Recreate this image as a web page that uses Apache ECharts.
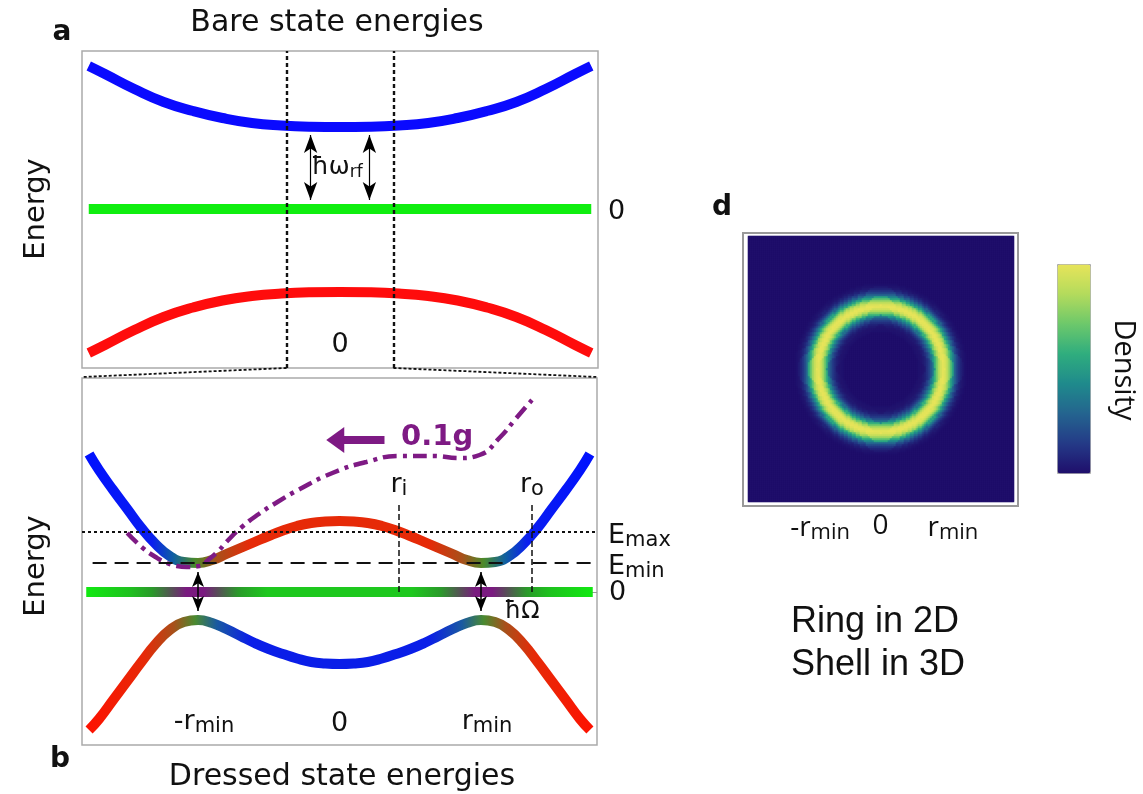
<!DOCTYPE html>
<html>
<head>
<meta charset="utf-8">
<script src="https://cdn.jsdelivr.net/npm/echarts@6/dist/echarts.min.js"></script>
<style>
  html, body { margin: 0; background: #fff; }
  #main { width: 1143px; height: 794px; }
</style>
</head>
<body>
<div id="main"></div>
<script>
// ---- values (x in units of r_min, energy in arbitrary units) ----

// a: bare state energies
var bareX = [-8.55, -8, -7, -6, -5, -4, -3, -2, -1, 0, 1, 2, 3, 4, 5, 6, 7, 8, 8.55]
var bareUpper = [1.43, 1.35, 1.20, 1.07, 0.98, 0.91, 0.86, 0.835, 0.823, 0.82,
  0.823, 0.835, 0.86, 0.91, 0.98, 1.07, 1.20, 1.35, 1.43]
var bareLower = [-1.44, -1.36, -1.21, -1.08, -0.985, -0.915, -0.87, -0.845, -0.833, -0.83,
  -0.833, -0.845, -0.87, -0.915, -0.985, -1.08, -1.21, -1.36, -1.44]
var bareFlatX = [-8.55, 8.55]
var bareFlat = [0, 0]
var bareTicks = [-1, 0, 1]
var bareTickLabels = ['', '0', '']
var zoomEdges = [-1.82, 1.82]
var rfArrowX = [-1, 1]

// b: dressed state energies
var dressedX = [-1.77, -1.7, -1.6, -1.5, -1.4, -1.3, -1.2, -1.1, -1.0, -0.9, -0.8, -0.7, -0.6, -0.5, -0.4, -0.3, -0.2, -0.1, 0,
  0.1, 0.2, 0.3, 0.4, 0.5, 0.6, 0.7, 0.8, 0.9, 1.0, 1.1, 1.2, 1.3, 1.4, 1.5, 1.6, 1.7, 1.77]
var dressedUpper = [1.38, 1.22, 1.02, 0.83, 0.64, 0.48, 0.36, 0.30, 0.29, 0.32, 0.38, 0.44, 0.50, 0.56, 0.615, 0.66, 0.69, 0.705, 0.71,
  0.705, 0.69, 0.66, 0.615, 0.56, 0.50, 0.44, 0.38, 0.32, 0.29, 0.30, 0.36, 0.48, 0.64, 0.83, 1.02, 1.22, 1.38]
var dressedLower = [-1.38, -1.27, -1.08, -0.89, -0.70, -0.52, -0.38, -0.30, -0.28, -0.31, -0.37, -0.44, -0.51, -0.57, -0.62, -0.665, -0.70, -0.715, -0.72,
  -0.715, -0.70, -0.665, -0.62, -0.57, -0.51, -0.44, -0.37, -0.31, -0.28, -0.30, -0.38, -0.52, -0.70, -0.89, -1.08, -1.27, -1.38]
var dressedFlatX = [-1.79, 1.79]
var dressedFlat = [0, 0]
// potential with gravity (0.1g)
var gravX = [-1.5, -1.39, -1.3, -1.22, -1.15, -1.08, -0.99, -0.92, -0.85, -0.8, -0.69, -0.57, -0.45, -0.28, -0.05, 0.19,
  0.42, 0.66, 0.85, 0.99, 1.13, 1.25, 1.36]
var gravY = [0.59, 0.44, 0.35, 0.29, 0.26, 0.25, 0.26, 0.33, 0.42, 0.50, 0.65, 0.78, 0.89, 1.03, 1.19, 1.30,
  1.36, 1.36, 1.34, 1.37, 1.54, 1.74, 1.92]
var eMin = 0.29
var eMax = 0.60
var rInner = 0.42
var rOuter = 1.36
var dressedTicks = [-1, 0, 1]
var dressedTickLabels = ['-r_min', '0', 'r_min']

// d: radial density profile of the ring
var ringR = [0.55, 0.575, 0.6, 0.625, 0.65, 0.675, 0.7, 0.725, 0.75, 0.775, 0.8, 0.825, 0.85, 0.875,
  0.9, 0.925, 0.95, 0.975, 1.0, 1.025, 1.05, 1.075, 1.1, 1.125, 1.15, 1.175, 1.2, 1.225, 1.25, 1.275, 1.3]
var ringDensity = [0, 0.01, 0.015, 0.02, 0.035, 0.06, 0.1, 0.15, 0.23, 0.33, 0.45, 0.59, 0.73, 0.85,
  0.94, 0.99, 1.0, 0.97, 0.91, 0.81, 0.68, 0.54, 0.41, 0.29, 0.19, 0.12, 0.07, 0.04, 0.02, 0.008, 0]
var ringTicks = [-1, 0, 1]
var ringTickLabels = ['-r_min', '0', 'r_min']

// ---- styles ----
var FAM = '"DejaVu Sans", sans-serif'
var FAM_D = '"Open Sans", sans-serif'
var INK = '#111'
var PURPLE = '#7e1a84'
var densityColors = ['#1f0e6b', '#243a87', '#24648f', '#1f8a8c', '#2fad7e', '#6cc86b', '#b3db5c', '#e7e45a']

function pairs(xs, ys) {
  return xs.map(function (x, i) { return [x, ys[i]] })
}
function subText(t, lead) {
  var p = t.split('_')
  if (!p[1]) return p[0]
  return (lead ? '{g| }' : '') + '{m|' + p[0] + '}{s|' + p[1] + '}'
}
function subRich(size, subSize, fam) {
  return {
    g: { width: 12, fontSize: 4 },
    m: { fontSize: size, fontFamily: fam, color: INK, lineHeight: size + 4, verticalAlign: 'middle' },
    s: { fontSize: subSize, fontFamily: fam, color: INK, lineHeight: subSize,
      padding: [Math.round(size * 0.6), 0, 0, 0], verticalAlign: 'bottom' }
  }
}
function lookup(values, labels, lead) {
  return function (v) {
    for (var i = 0; i < values.length; i++) {
      if (Math.abs(values[i] - v) < 1e-6) return subText(labels[i], lead)
    }
    return ''
  }
}
// horizontal colour gradient along a curve, stops given in x
function xGradient(xs, stops) {
  var x0 = xs[0], x1 = xs[xs.length - 1]
  return new echarts.graphic.LinearGradient(0, 0, 1, 0, stops.map(function (s) {
    return { offset: (s[0] - x0) / (x1 - x0), color: s[1] }
  }))
}

// heatmap table built from the radial profile
var N = 133
var cats = []
for (var c = 0; c < N; c++) cats.push(c)
function densityAt(r) {
  var best = 0, bestD = 1e9
  for (var k = 0; k < ringR.length; k++) {
    var d = Math.abs(ringR[k] - r)
    if (d < bestD) { bestD = d; best = k }
  }
  return bestD <= 0.0125 ? ringDensity[best] : 0
}
var heatCells = []
for (var i = 0; i < N; i++) {
  for (var j = 0; j < N; j++) {
    var x = -2 + (i + 0.5) * 4 / N
    var y = -2 + (j + 0.5) * 4 / N
    heatCells.push([i, j, densityAt(Math.sqrt(x * x + y * y))])
  }
}

var chart = echarts.init(document.getElementById('main'))

var hiddenAxis = { axisLine: { show: false }, splitLine: { show: false }, axisTick: { show: false }, axisLabel: { show: false } }
function ax(extra) { return Object.assign({ type: 'value' }, JSON.parse(JSON.stringify(hiddenAxis)), extra) }
function lab(extra) {
  return Object.assign({ show: true, hideOverlap: false, showMinLabel: true, showMaxLabel: true,
    fontSize: 27, fontFamily: FAM, color: INK }, extra)
}
function levelLabel(text) {
  return { show: true, position: 'end', distance: 11, offset: [0, 4], formatter: subText(text), rich: subRich(27, 21, FAM) }
}

var option = {
  animation: false,
  grid: [
    { left: 82, top: 51, width: 516, height: 317, show: true, borderColor: '#aaa', borderWidth: 1.5, outerBoundsMode: 'none' },
    { left: 82, top: 378, width: 515, height: 367, show: true, borderColor: '#aaa', borderWidth: 1.5, outerBoundsMode: 'none' },
    { left: 743, top: 233, width: 275, height: 273, show: true, borderColor: '#999', borderWidth: 2, outerBoundsMode: 'none' },
    { left: 748, top: 236, width: 266, height: 266, outerBoundsMode: 'none' }
  ],
  xAxis: [
    ax({ gridIndex: 0, min: -8.78, max: 8.78,
      axisTick: { show: true, inside: true, length: 5, customValues: bareTicks, lineStyle: { color: '#999' } },
      axisLabel: lab({ inside: true, margin: 10, customValues: [0],
        formatter: lookup(bareTicks, bareTickLabels), rich: subRich(27, 21, FAM) }) }),
    ax({ gridIndex: 1, min: -1.82, max: 1.82,
      axisTick: { show: true, inside: true, length: 5, customValues: dressedTicks, lineStyle: { color: '#999' } },
      axisLabel: lab({ inside: true, margin: 8, customValues: dressedTicks,
        formatter: lookup(dressedTicks, dressedTickLabels, true), rich: subRich(27, 21, FAM) }) }),
    ax({ gridIndex: 2, min: -2.07, max: 2.07,
      axisTick: { show: true, inside: true, length: 4, customValues: ringTicks, lineStyle: { color: '#999' } },
      axisLabel: lab({ margin: 6, customValues: ringTicks, fontFamily: FAM_D, fontSize: 28,
        formatter: lookup(ringTicks, ringTickLabels, true), rich: subRich(28, 22, FAM_D) }) }),
    { type: 'category', gridIndex: 3, data: cats, show: false }
  ],
  yAxis: [
    ax({ gridIndex: 0, min: -1.59, max: 1.58,
      axisTick: { show: true, inside: true, length: 5, customValues: [0], lineStyle: { color: '#999' } } }),
    ax({ gridIndex: 0, min: -1.59, max: 1.58, position: 'right',
      axisLabel: lab({ margin: 10, customValues: [0], formatter: lookup([0], ['0']), verticalAlign: 'top', lineHeight: 6 }) }),
    ax({ gridIndex: 1, min: -1.53, max: 2.14 }),
    ax({ gridIndex: 1, min: -1.53, max: 2.14, position: 'right',
      axisTick: { show: true, inside: true, length: 5, customValues: [0], lineStyle: { color: '#999' } },
      axisLabel: lab({ margin: 12, customValues: [0], formatter: lookup([0], ['0']), verticalAlign: 'top', lineHeight: 2 }) }),
    ax({ gridIndex: 2, min: -2.05, max: 2.05,
      axisTick: { show: true, inside: true, length: 4, customValues: ringTicks, lineStyle: { color: '#999' } } }),
    { type: 'category', gridIndex: 3, data: cats, show: false }
  ],
  visualMap: {
    type: 'continuous', seriesIndex: 7, min: 0, max: 1, calculable: false, hoverLink: false,
    left: 1057, top: 264, itemWidth: 33, itemHeight: 209, text: null, showLabel: false,
    padding: 0, borderColor: '#aaa', borderWidth: 1,
    inRange: { color: densityColors }
  },
  series: [
    // a
    { type: 'line', xAxisIndex: 0, yAxisIndex: 0, data: pairs(bareX, bareUpper), smooth: true, symbol: 'none', silent: true,
      lineStyle: { color: '#0a0aff', width: 10 }, z: 2 },
    { type: 'line', xAxisIndex: 0, yAxisIndex: 0, data: pairs(bareFlatX, bareFlat), symbol: 'none', silent: true,
      lineStyle: { color: '#10ee10', width: 10 }, z: 2,
      markLine: {
        silent: true, symbol: 'none', symbolSize: [10, 18], animation: false, label: { show: false },
        data: [
          { xAxis: zoomEdges[0], lineStyle: { color: INK, width: 2.4, type: [4, 3] } },
          { xAxis: zoomEdges[1], lineStyle: { color: INK, width: 2.4, type: [4, 3] } },
          [{ coord: [rfArrowX[0], 0.74], symbol: 'arrow', lineStyle: { color: '#000', width: 1.2, type: 'solid' } },
            { coord: [rfArrowX[0], 0.09], symbol: 'arrow' }],
          [{ coord: [rfArrowX[1], 0.74], symbol: 'arrow', lineStyle: { color: '#000', width: 1.2, type: 'solid' } },
            { coord: [rfArrowX[1], 0.09], symbol: 'arrow' }]
        ]
      },
      markPoint: {
        silent: true, symbol: 'circle', symbolSize: 1, itemStyle: { color: 'rgba(0,0,0,0)' },
        data: [{ coord: [-0.1, 0.42], label: { show: true, position: 'inside', formatter: '{m|ħω}{s|rf}', rich: subRich(25, 17, FAM) } }]
      } },
    { type: 'line', xAxisIndex: 0, yAxisIndex: 0, data: pairs(bareX, bareLower), smooth: true, symbol: 'none', silent: true,
      lineStyle: { color: '#ff0c0c', width: 10 }, z: 2 },

    // b
    { type: 'line', xAxisIndex: 1, yAxisIndex: 2, data: pairs(dressedX, dressedUpper), smooth: true, symbol: 'none', silent: true, z: 2,
      lineStyle: { width: 10, color: xGradient(dressedX, [
        [-1.77, '#0010ff'], [-1.3, '#0a1ef0'], [-1.15, '#1060a0'], [-1.0, '#4a8a2a'], [-0.85, '#a8501a'], [-0.62, '#e62a08'],
        [0.62, '#e62a08'], [0.85, '#a8501a'], [1.0, '#4a8a2a'], [1.15, '#1060a0'], [1.3, '#0a1ef0'], [1.77, '#0010ff']]) },
      markLine: {
        silent: true, symbol: 'none', symbolSize: [26, 18], animation: false, label: { show: false }, z: 6,
        data: [
          [{ coord: [-0.03, 1.52], symbol: 'triangle', lineStyle: { color: PURPLE, width: 8, type: 'solid' } },
            { coord: [0.318, 1.52] }]
        ]
      } },
    { type: 'line', xAxisIndex: 1, yAxisIndex: 2, data: pairs(dressedFlatX, dressedFlat), symbol: 'none', silent: true, z: 2,
      lineStyle: { width: 10, color: xGradient(dressedFlatX, [
        [-1.79, '#10ee10'], [-1.45, '#1fc01f'], [-1.3, '#2a9a2a'], [-1.15, '#5a4a5a'], [-1.06, '#7a1a80'], [-0.94, '#7a1a80'],
        [-0.85, '#5a4a5a'], [-0.7, '#2a9a2a'], [-0.5, '#1ec81e'], [0.5, '#1ec81e'], [0.7, '#2a9a2a'], [0.85, '#5a4a5a'],
        [0.94, '#7a1a80'], [1.06, '#7a1a80'], [1.15, '#5a4a5a'], [1.3, '#2a9a2a'], [1.45, '#1fc01f'], [1.79, '#10ee10']]) } },
    { type: 'line', xAxisIndex: 1, yAxisIndex: 2, data: pairs(dressedX, dressedLower), smooth: true, symbol: 'none', silent: true, z: 2,
      lineStyle: { width: 10, color: xGradient(dressedX, [
        [-1.77, '#ff1000'], [-1.35, '#e62a08'], [-1.15, '#a8501a'], [-1.0, '#4a8a30'], [-0.85, '#1a5aa0'], [-0.62, '#0a1ee8'],
        [0.62, '#0a1ee8'], [0.85, '#1a5aa0'], [1.0, '#4a8a30'], [1.15, '#a8501a'], [1.35, '#e62a08'], [1.77, '#ff1000']]) } },
    { type: 'line', xAxisIndex: 1, yAxisIndex: 2, data: pairs(gravX, gravY), smooth: true, symbol: 'none', silent: true, z: 3,
      lineStyle: { color: PURPLE, width: 4.5, type: [14, 6, 4, 6] },
      markLine: {
        silent: true, symbol: 'none', symbolSize: [9, 15], animation: false, label: { show: false }, z: 6,
        data: [
          [{ coord: [-1.82, eMax], lineStyle: { color: INK, width: 2.2, type: [3, 3] } }, { coord: [1.82, eMax], label: levelLabel('E_max') }],
          [{ coord: [-1.745, eMin], lineStyle: { color: INK, width: 2, type: [14, 8] } }, { coord: [1.82, eMin], label: levelLabel('E_min') }],
          [{ coord: [rInner, 0], lineStyle: { color: INK, width: 1.5, type: [6, 3] } },
            { coord: [rInner, 0.9], label: { show: true, position: 'end', distance: 2, formatter: '{m|r}{s|i}', rich: subRich(27, 21, FAM) } }],
          [{ coord: [rOuter, 0], lineStyle: { color: INK, width: 1.5, type: [6, 3] } },
            { coord: [rOuter, 0.9], label: { show: true, position: 'end', distance: 2, formatter: '{m|r}{s|o}', rich: subRich(27, 21, FAM) } }],
          [{ coord: [dressedTicks[0], 0.2], symbol: 'arrow', lineStyle: { color: '#000', width: 1.5, type: 'solid' } },
            { coord: [dressedTicks[0], -0.19], symbol: 'arrow' }],
          [{ coord: [dressedTicks[2], 0.2], symbol: 'arrow', lineStyle: { color: '#000', width: 1.5, type: 'solid' } },
            { coord: [dressedTicks[2], -0.19], symbol: 'arrow' }]
        ]
      },
      markPoint: {
        silent: true, symbol: 'circle', symbolSize: 1, itemStyle: { color: 'rgba(0,0,0,0)' },
        data: [
          { coord: [0.69, 1.55], label: { show: true, position: 'inside', formatter: '0.1g', color: PURPLE,
            fontFamily: FAM, fontWeight: 'bold', fontSize: 29 } },
          { coord: [1.29, -0.2], label: { show: true, position: 'inside', formatter: 'ħΩ', color: INK,
            fontFamily: FAM, fontSize: 24 } }
        ]
      } },

    // d
    { type: 'heatmap', xAxisIndex: 3, yAxisIndex: 5, data: heatCells, progressive: 0, silent: true,
      emphasis: { disabled: true }, itemStyle: { borderWidth: 0 } }
  ],
  graphic: [
    { id: 'la', type: 'text', x: 62, y: 33, style: { text: 'a', font: 'bold 28px ' + FAM, fill: INK, textAlign: 'center', textVerticalAlign: 'middle' } },
    { id: 'lb', type: 'text', x: 60, y: 760, style: { text: 'b', font: 'bold 28px ' + FAM, fill: INK, textAlign: 'center', textVerticalAlign: 'middle' } },
    { id: 'ld', type: 'text', x: 722, y: 208, style: { text: 'd', font: 'bold 28px ' + FAM, fill: INK, textAlign: 'center', textVerticalAlign: 'middle' } },
    { id: 't1', type: 'text', x: 337, y: 23, style: { text: 'Bare state energies', font: '30px ' + FAM, fill: INK, textAlign: 'center', textVerticalAlign: 'middle' } },
    { id: 't2', type: 'text', x: 342, y: 777, style: { text: 'Dressed state energies', font: '30px ' + FAM, fill: INK, textAlign: 'center', textVerticalAlign: 'middle' } },
    { id: 'ea', type: 'text', x: 36, y: 209, rotation: Math.PI / 2, style: { text: 'Energy', font: '29px ' + FAM, fill: INK, textAlign: 'center', textVerticalAlign: 'middle' } },
    { id: 'eb', type: 'text', x: 36, y: 566, rotation: Math.PI / 2, style: { text: 'Energy', font: '29px ' + FAM, fill: INK, textAlign: 'center', textVerticalAlign: 'middle' } },
    { id: 'den', type: 'text', x: 1123, y: 370, rotation: -Math.PI / 2, style: { text: 'Density', font: '29px ' + FAM_D, fill: INK, textAlign: 'center', textVerticalAlign: 'middle' } },
    { id: 'r1', type: 'text', x: 791, y: 622, style: { text: 'Ring in 2D', font: '36px "Liberation Sans", Arial, sans-serif', fill: INK, textAlign: 'left', textVerticalAlign: 'middle' } },
    { id: 'r2', type: 'text', x: 791, y: 665, style: { text: 'Shell in 3D', font: '36px "Liberation Sans", Arial, sans-serif', fill: INK, textAlign: 'left', textVerticalAlign: 'middle' } }
  ]
}

chart.setOption(option)

// dotted zoom connectors from panel a's window to panel b's frame
var aL = chart.convertToPixel({ xAxisIndex: 0, yAxisIndex: 0 }, [zoomEdges[0], -1.59])
var aR = chart.convertToPixel({ xAxisIndex: 0, yAxisIndex: 0 }, [zoomEdges[1], -1.59])
var bL = chart.convertToPixel({ xAxisIndex: 1, yAxisIndex: 2 }, [-1.82, 2.14])
var bR = chart.convertToPixel({ xAxisIndex: 1, yAxisIndex: 2 }, [1.82, 2.14])
chart.setOption({
  graphic: [
    { id: 'cl', type: 'polyline', shape: { points: [aL, [bL[0], bL[1] - 1]] }, style: { stroke: INK, lineWidth: 1.8, lineDash: [3, 2], fill: null } },
    { id: 'cr', type: 'polyline', shape: { points: [aR, [bR[0], bR[1] - 1]] }, style: { stroke: INK, lineWidth: 1.8, lineDash: [3, 2], fill: null } }
  ]
})

window.addEventListener('resize', function () {
  chart.resize()
})
</script>
</body>
</html>
